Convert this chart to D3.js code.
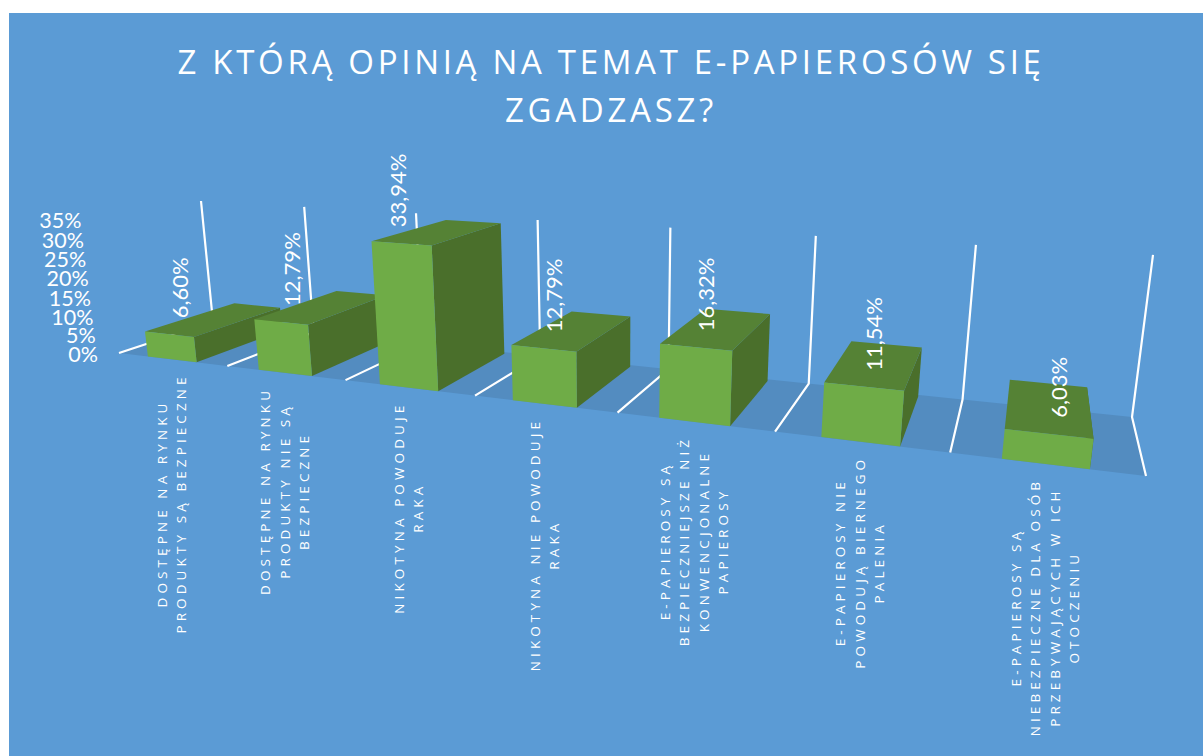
<!DOCTYPE html>
<html>
<head>
<meta charset="utf-8">
<script src="https://cdn.jsdelivr.net/npm/d3@7"></script>
<style>
  html, body { margin: 0; padding: 0; background: #fff; }
  svg { display: block; }
</style>
</head>
<body>
<div id="chart"></div>
<script>
const titleLines = ["Z KTÓRĄ OPINIĄ NA TEMAT E-PAPIEROSÓW SIĘ", "ZGADZASZ?"];

const categories = [
  "Dostępne na rynku produkty są bezpieczne",
  "Dostępne na rynku produkty nie są bezpieczne",
  "Nikotyna powoduje raka",
  "Nikotyna nie powoduje raka",
  "E-papierosy są bezpieczniejsze niż konwencjonalne papierosy",
  "E-papierosy nie powodują biernego palenia",
  "E-papierosy są niebezpieczne dla osób przebywających w ich otoczeniu"
];
const categoryLines = [
  ["DOSTĘPNE NA RYNKU", "PRODUKTY SĄ BEZPIECZNE"],
  ["DOSTĘPNE NA RYNKU", "PRODUKTY NIE SĄ", "BEZPIECZNE"],
  ["NIKOTYNA POWODUJE", "RAKA"],
  ["NIKOTYNA NIE POWODUJE", "RAKA"],
  ["E-PAPIEROSY SĄ", "BEZPIECZNIEJSZE NIŻ", "KONWENCJONALNE", "PAPIEROSY"],
  ["E-PAPIEROSY NIE", "POWODUJĄ BIERNEGO", "PALENIA"],
  ["E-PAPIEROSY SĄ", "NIEBEZPIECZNE DLA OSÓB", "PRZEBYWAJĄCYCH W ICH", "OTOCZENIU"]
];
const values = [6.60, 12.79, 33.94, 12.79, 16.32, 11.54, 6.03];
const yTicks = [0, 5, 10, 15, 20, 25, 30, 35];

const width = 1203, height = 756;

// where the plot box of the 3D chart lands on screen
const floorFrontLeft = [119, 353], floorFrontRight = [1146, 476],
      floorBackRight = [1132, 417], floorBackLeft = [213, 322],
      wallTopLeft = [201, 201], wallTopRight = [1153, 256];

// square -> quad homography for the floor, then a third column for height
function makeProjection(p0, p1, p2, p3, t0, t1) {
  const dx1 = p1[0] - p2[0], dx2 = p3[0] - p2[0], sx = p0[0] - p1[0] + p2[0] - p3[0];
  const dy1 = p1[1] - p2[1], dy2 = p3[1] - p2[1], sy = p0[1] - p1[1] + p2[1] - p3[1];
  const den = dx1 * dy2 - dx2 * dy1;
  const g = (sx * dy2 - dx2 * sy) / den, h = (dx1 * sy - sx * dy1) / den;
  const a = p1[0] - p0[0] + g * p1[0], b = p3[0] - p0[0] + h * p3[0], c = p0[0];
  const d = p1[1] - p0[1] + g * p1[1], e = p3[1] - p0[1] + h * p3[1], f = p0[1];
  const w0 = h + 1, w1 = g + h + 1;
  const k3 = ((t1[0] - p2[0]) * w1 - (t0[0] - p3[0]) * w0) / (t0[0] - t1[0]);
  const k1 = t0[0] * (w0 + k3) - p3[0] * w0;
  const k2 = t0[1] * (w0 + k3) - p3[1] * w0;
  return (x, y, z) => {
    const w = g * x + h * z + k3 * y + 1;
    return [(a * x + b * z + k1 * y + c) / w, (d * x + e * z + k2 * y + f) / w];
  };
}
const project = makeProjection(floorFrontLeft, floorFrontRight, floorBackRight, floorBackLeft, wallTopLeft, wallTopRight);

const x = d3.scaleBand().domain(categories).range([0, 1]).paddingInner(0.55).paddingOuter(0.275);
const y = d3.scaleLinear().domain([0, 35]).range([0, 1]);
const barDepth = 0.96;
const gridX = d3.range(categories.length + 1).map(i => i / categories.length);

const svg = d3.select("#chart").append("svg")
    .attr("width", width)
    .attr("height", height)
    .attr("viewBox", [0, 0, width, height]);

svg.append("rect")
    .attr("x", 9).attr("y", 13)
    .attr("width", width - 9).attr("height", height - 13)
    .attr("fill", "#5b9bd5");

svg.append("g")
    .selectAll("text")
    .data(titleLines)
    .join("text")
    .attr("x", 611)
    .attr("y", (d, i) => 74 + i * 48)
    .attr("text-anchor", "middle")
    .attr("fill", "#fff")
    .attr("font-family", "'Open Sans'")
    .attr("font-size", 33)
    .attr("letter-spacing", 3.7)
    .text(d => d);

const poly = d3.line();

// floor
svg.append("path")
    .attr("d", poly([project(0, 0, 0), project(1, 0, 0), project(1, 0, 1), project(0, 0, 1)]) + "Z")
    .attr("fill", "#538cc0");

// white lines running over the floor and up the back
svg.append("g")
    .selectAll("path")
    .data(gridX)
    .join("path")
    .attr("d", d => poly([project(d, 0, 0), project(d, 0, 1), project(d, 1, 1)]))
    .attr("fill", "none")
    .attr("stroke", "#fff")
    .attr("stroke-width", 2.2);

// value axis labels
svg.append("g")
    .selectAll("text")
    .data(yTicks)
    .join("text")
    .attr("x", d => project(0, y(d), 0)[0] - 21)
    .attr("y", d => project(0, y(d), 0)[1] + 1.5)
    .attr("dy", "0.35em")
    .attr("text-anchor", "end")
    .attr("fill", "#fff")
    .attr("font-family", "Lato")
    .attr("font-size", 21.5)
    .text(d => d + "%");

function drawLabel(g, d, i) {
  const p = project(x(categories[i]) + x.bandwidth() / 2, y(d), 0);
  g.append("text")
      .attr("transform", `translate(${p[0] + (i === 2 ? -3 : 11)},${p[1] - 16}) rotate(-90)`)
      .attr("dy", "0.35em")
      .attr("fill", "#fff")
      .attr("font-family", "Lato")
      .attr("font-size", 22)
      .text(d.toFixed(2).replace(".", ",") + "%");
}

// first two labels sit behind their bars, the rest in front
const backLabels = svg.append("g");
const barsG = svg.append("g");
const frontLabels = svg.append("g");

values.forEach((d, i) => {
  const x0 = x(categories[i]), x1 = x0 + x.bandwidth(), h = y(d);
  const bar = barsG.append("g");
  bar.append("path")
      .attr("d", poly([project(x1, 0, 0), project(x1, h, 0), project(x1, h, barDepth), project(x1, 0, barDepth)]) + "Z")
      .attr("fill", "#4a6f2b");
  bar.append("path")
      .attr("d", poly([project(x0, h, 0), project(x1, h, 0), project(x1, h, barDepth), project(x0, h, barDepth)]) + "Z")
      .attr("fill", "#558235");
  bar.append("path")
      .attr("d", poly([project(x0, 0, 0), project(x1, 0, 0), project(x1, h, 0), project(x0, h, 0)]) + "Z")
      .attr("fill", "#6fac47");
  drawLabel(i < 2 ? backLabels : frontLabels, d, i);
});

// category labels, rotated, wrapped and hung under the floor edge
categoryLines.forEach((lines, i) => {
  const p = project(x(categories[i]) + x.bandwidth() / 2, 0, 0);
  const g = svg.append("g");
  const texts = g.selectAll("text")
      .data(lines)
      .join("text")
      .attr("text-anchor", "middle")
      .attr("dy", "0.35em")
      .attr("fill", "#fff")
      .attr("font-family", "'Open Sans'")
      .attr("font-size", 13.5)
      .attr("letter-spacing", 4.1)
      .text(d => d);
  const longest = d3.max(texts.nodes(), n => n.getComputedTextLength());
  const cy = p[1] + 14 + longest / 2;
  texts.attr("transform", (d, j) =>
    `translate(${p[0] + (j - (lines.length - 1) / 2) * 19.5},${cy}) rotate(-90)`);
});
</script>
</body>
</html>
